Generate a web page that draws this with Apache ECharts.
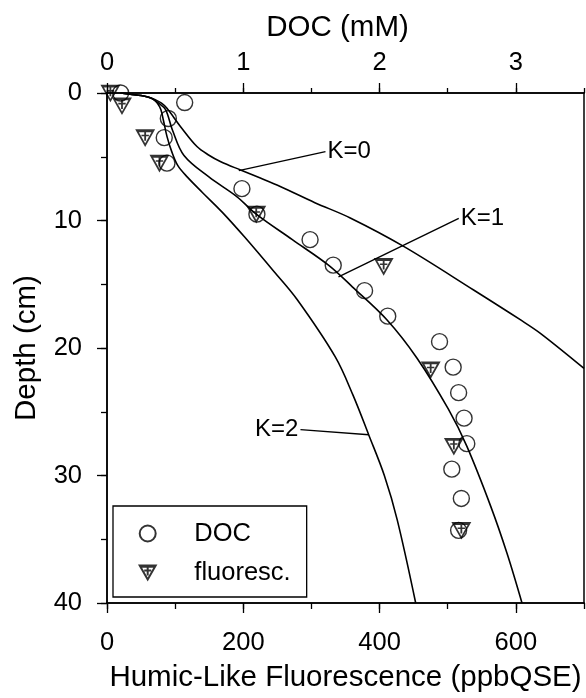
<!DOCTYPE html>
<html><head><meta charset="utf-8">
<script src="https://cdn.jsdelivr.net/npm/echarts@6/dist/echarts.min.js"></script>
<style>html,body{margin:0;padding:0;background:#fff}#c{width:586px;height:698px}</style>
</head><body><div id="c"></div>
<script>
// Measured data
const docDepth = [0, 0.75, 2, 3.5, 5.5, 7.5, 9.5, 11.5, 13.5, 15.5, 17.5, 19.5, 21.5, 23.5, 25.5, 27.5, 29.5, 31.8, 34.3];
const docValue = [0.10, 0.57, 0.45, 0.42, 0.44, 0.99, 1.10, 1.49, 1.66, 1.89, 2.06, 2.44, 2.54, 2.58, 2.62, 2.64, 2.53, 2.60, 2.58];
const fluDepth = [0, 1, 3.5, 5.5, 9.5, 13.6, 21.7, 27.7, 34.3];
const fluValue = [5, 22, 56, 77, 219, 406, 475, 509, 520];

const k0Flu   = [20, 34, 50, 60, 70, 80, 88, 108, 132, 149, 167, 196, 225, 255, 305, 357, 436, 538, 607, 636, 700];
const k0Depth = [0, 0.1, 0.2, 0.32, 0.5, 0.8, 1.2, 2.64, 4.2, 4.86, 5.39, 6.04, 6.67, 7.35, 8.6, 9.8, 12.05, 15.45, 17.8, 18.85, 21.6];
const k1Flu   = [20, 34, 50, 60, 68, 76, 86, 96, 113, 150, 190, 219, 272, 325, 360, 411, 455, 501, 528, 563, 587, 609];
const k1Depth = [0, 0.1, 0.2, 0.32, 0.5, 0.8, 1.3, 2.9, 4.9, 6.6, 8.1, 9.5, 11.5, 13.5, 15.2, 17.8, 20.8, 24.8, 27.7, 32.4, 36.1, 40];
const k2Flu   = [20, 34, 50, 60, 68, 74, 79, 83, 88, 95, 104, 118, 140, 170, 202, 245, 279, 335, 361, 384, 407, 426, 453];
const k2Depth = [0, 0.1, 0.2, 0.32, 0.5, 0.8, 1.3, 2.2, 3.4, 4.6, 5.7, 6.6, 7.8, 9.4, 11.3, 14, 16.2, 20.7, 23.7, 26.8, 30, 33.5, 40];

const curveNames = ['K=0', 'K=1', 'K=2'];
// leader lines [fromFlu, fromDepth, toFlu, toDepth]; label sits at the "to" end
const leaderK0 = [193.4, 6.09, 320.6, 4.6];
const leaderK1 = [339.7, 14.43, 516.2, 9.83];
const leaderK2 = [384.2, 26.8, 283.9, 26.4];

const fluTicks = [0, 200, 400, 600];
const docTicks = [0, 1, 2, 3];
const depthTicks = [0, 10, 20, 30, 40];

const FONT = "'Liberation Sans', Arial, Helvetica, sans-serif";
const BLK = '#000';
const TITLE = 29.5;
const triPath = 'path://M0,0 L16,0 L8,14 Z M1,1.2 L15,1.2 M8,1 L8,10 M4.5,5 L11.5,5';

function zip(a, b) { return a.map((v, i) => [v, b[i]]); }

function minorAxis(pos, min, max, interval, extra) {
  return Object.assign({
    type: 'value', position: pos, min: min, max: max, interval: interval,
    axisLine: { show: true, onZero: false, lineStyle: { color: BLK, width: 1.5 } },
    axisTick: { show: true, inside: false, length: 6, lineStyle: { color: BLK, width: 1.3 } },
    axisLabel: { show: false }, splitLine: { show: false }
  }, extra || {});
}
function majorAxis(pos, min, max, ticks, name, margin, gap, extra) {
  return Object.assign({
    type: 'value', position: pos, min: min, max: max,
    name: name, nameLocation: 'middle', nameGap: gap,
    nameTextStyle: { fontFamily: FONT, fontSize: TITLE, color: BLK },
    axisLine: { show: true, onZero: false, lineStyle: { color: BLK, width: 1.5 } },
    axisTick: { show: true, inside: false, length: 10, customValues: ticks, lineStyle: { color: BLK, width: 1.3 } },
    axisLabel: { show: true, customValues: ticks, margin: margin, fontFamily: FONT, fontSize: 25.5, color: BLK },
    splitLine: { show: false }
  }, extra || {});
}

function curve(name, xs, ys, leader, labelPos) {
  return {
    name: name, type: 'line', xAxisIndex: 0, yAxisIndex: 0,
    data: zip(xs, ys), showSymbol: false, smooth: 0.35, silent: true,
    lineStyle: { color: BLK, width: 1.6 }, z: 2,
    markLine: {
      silent: true, symbol: ['none', 'none'],
      lineStyle: { color: BLK, width: 1.4, type: 'solid' }, label: { show: false },
      data: [[{ coord: [leader[0], leader[1]] }, { coord: [leader[2], leader[3]] }]]
    },
    markPoint: {
      silent: true, symbol: 'circle', symbolSize: 0,
      label: { show: true, position: labelPos, distance: 2, formatter: name,
               fontFamily: FONT, fontSize: 24, color: BLK },
      data: [{ coord: [leader[2], leader[3]] }]
    }
  };
}

const chart = echarts.init(document.getElementById('c'), null, { renderer: 'canvas' });
chart.setOption({
  backgroundColor: '#fff',
  animation: false,
  grid: { left: 107, right: 2, top: 93, bottom: 95, containLabel: false, outerBoundsMode: 'none' },
  xAxis: [
    minorAxis('bottom', 0, 700, 100),
    majorAxis('bottom', 0, 700, fluTicks, 'Humic-Like Fluorescence (ppbQSE)', 27, 60),
    minorAxis('top', 0, 3.5, 0.5, { axisTick: { show: true, length: 5, lineStyle: { color: BLK, width: 1.3 } } }),
    majorAxis('top', 0, 3.5, docTicks, 'DOC (mM)', 17, 50,
      { nameTextStyle: { fontFamily: FONT, fontSize: TITLE, color: BLK, padding: [0, 16, 0, 0] } })
  ],
  yAxis: [
    minorAxis('left', 0, 40, 5, { inverse: true }),
    majorAxis('left', 0, 40, depthTicks, 'Depth (cm)', 25, 65, { inverse: true }),
    { type: 'value', position: 'right', min: 0, max: 40, inverse: true,
      axisLine: { show: true, onZero: false, lineStyle: { color: BLK, width: 1.5 } },
      axisTick: { show: false }, axisLabel: { show: false }, splitLine: { show: false } }
  ],
  legend: {
    data: ['DOC', 'fluoresc.'], orient: 'vertical', left: 113, top: 506,
    padding: [14.5, 16, 11.5, 25.7], itemGap: 13, itemWidth: 16, itemHeight: 16,
    borderColor: BLK, borderWidth: 1.3, backgroundColor: '#fff',
    selectedMode: false,
    textStyle: { fontFamily: FONT, fontSize: 25.5, color: BLK, lineHeight: 25, padding: [0, 0, 0, 33.6] }
  },
  series: [
    curve(curveNames[0], k0Flu, k0Depth, leaderK0, 'right'),
    curve(curveNames[1], k1Flu, k1Depth, leaderK1, 'right'),
    curve(curveNames[2], k2Flu, k2Depth, leaderK2, 'left'),
    {
      name: 'DOC', type: 'scatter', xAxisIndex: 2, yAxisIndex: 0,
      data: zip(docValue, docDepth), symbol: 'circle', symbolSize: 16, clip: false,
      itemStyle: { color: 'rgba(255,255,255,0)', borderColor: BLK, borderWidth: 1.4 }, z: 3
    },
    {
      name: 'fluoresc.', type: 'scatter', xAxisIndex: 0, yAxisIndex: 0,
      data: zip(fluValue, fluDepth), symbol: triPath, symbolSize: [17, 15], clip: false,
      itemStyle: { color: 'rgba(255,255,255,0)', borderColor: BLK, borderWidth: 1.7 }, z: 4
    }
  ]
});
</script></body></html>
